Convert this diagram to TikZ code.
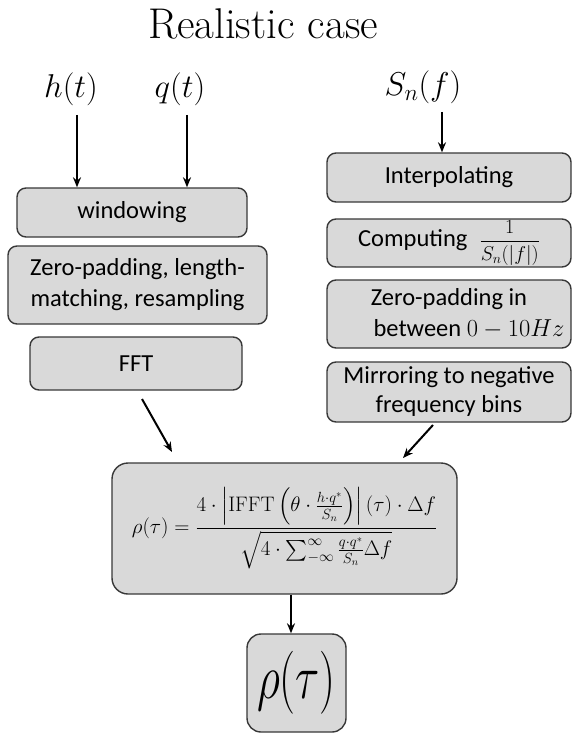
\RequirePackage{fix-cm}
\documentclass[tikz,border=0pt]{standalone}
\usepackage{fontspec}
\usepackage{amsmath}
\newfontfamily\calib{Carlito}
\usetikzlibrary{arrows.meta}
\begin{document}
\begin{tikzpicture}[x=1pt,y=-1pt,
  boxst/.style={draw=black!78,line width=1.4pt,fill=black!15,rounded corners=9pt,
    inner sep=0pt,align=center,font=\calib\fontsize{24.5}{31}\selectfont},
  arr/.style={line width=2pt,-{Stealth[length=10pt,width=8pt]}},
  lab/.style={inner sep=0pt,font=\fontsize{33}{36}\selectfont}]
\useasboundingbox (0,0) rectangle (573,733);
% title
\node[inner sep=0pt,anchor=base,font=\fontsize{43}{46}\selectfont] (title) at (263,39) {Realistic case};
% inputs
\node[lab,anchor=base] (h) at (71,98) {$h(t)$};
\node[lab,anchor=base] (q) at (180,98) {$q(t)$};
\node[lab,anchor=base] (s) at (423,95.5) {$S_n(f)$};
% left column
\node[boxst,minimum width=230pt,minimum height=49pt] (wind) at (132,212.5) {windowing};
\node[boxst,minimum width=259pt,minimum height=78pt] (zpad) at (137.5,285) {Zero-padding, length-\\matching, resampling};
\node[boxst,minimum width=212pt,minimum height=53pt] (fft) at (136,363.5) {FFT};
% right column
\node[boxst,minimum width=244pt,minimum height=49pt] (interp) at (449,177.5) {Interpolating};
\node[boxst,minimum width=244pt,minimum height=48pt] (comp) at (449,243) {Computing\enspace{\fontsize{20}{24}\selectfont$\dfrac{1}{S_n(|f|)}$}};
\node[boxst,minimum width=244pt,minimum height=68pt] (zpin) at (449,314) {Zero-padding in\\\hspace*{40pt}between $0-10Hz$};
\node[boxst,minimum width=244pt,minimum height=60pt,font=\calib\fontsize{24.5}{29}\selectfont] (mirr) at (449,392) {Mirroring to negative\\frequency bins};
% formula
\node[boxst,minimum width=345pt,minimum height=131pt,rounded corners=16pt,font=\fontsize{21}{24}\selectfont] (form) at (284.5,528.5)
  {$\displaystyle \rho(\tau)=\frac{4\cdot\left|\mathrm{IFFT}\left(\theta\cdot\frac{h\cdot q^*}{S_n}\right)\right|(\tau)\cdot\Delta f}{\sqrt{4\cdot\sum_{-\infty}^{\infty}\frac{q\cdot q^*}{S_n}\Delta f}}$};
% result
\node[boxst,minimum width=99pt,minimum height=98pt,rounded corners=14pt,font=\fontsize{45}{50}\selectfont] (rho) at (296.5,683)
  {\raisebox{4pt}{\scalebox{1}[1.4]{$\rho(\tau)$}}};
% connector coordinates
\coordinate (ha) at (77,115);
\coordinate (qa) at (187,115);
\coordinate (sa) at (442,112);
\coordinate (fa) at (142,399);
\coordinate (fb) at (172,452);
\coordinate (ma) at (433,425);
\coordinate (mb) at (403,458);
\coordinate (ra) at (291,0);
% connectors
\draw[arr] (ha) -- (ha |- wind.north);
\draw[arr] (qa) -- (qa |- wind.north);
\draw[arr] (sa) -- (sa |- interp.north);
\draw[arr] (fa) -- (fb);
\draw[arr] (ma) -- (mb);
\draw[arr] (form.south -| ra) -- (rho.north -| ra);
\end{tikzpicture}
\end{document}
